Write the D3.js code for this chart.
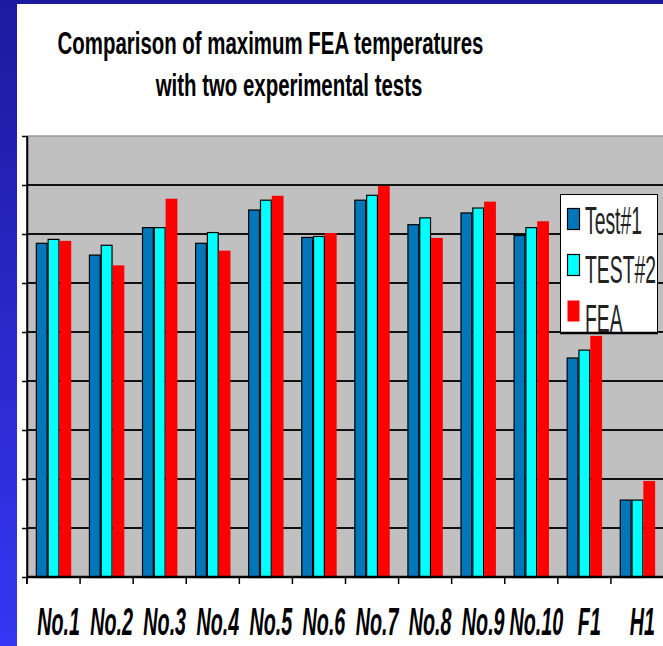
<!DOCTYPE html>
<html><head><meta charset="utf-8">
<script src="https://cdn.jsdelivr.net/npm/d3@7"></script>
<style>html,body{margin:0;padding:0;background:#fff;overflow:hidden}</style>
</head><body>
<svg id="c" width="663" height="646"></svg>
<script>
const categories = ["No.1","No.2","No.3","No.4","No.5","No.6","No.7","No.8","No.9","No.10","F1","H1"];
const seriesNames = ["Test#1","TEST#2","FEA"];
const test1 = [341,329,357,341,375,347,385,360,372,349,224,79];
const test2 = [345,339,357,352,385,348,390,367,377,357,232,79];
const fea   = [343,318,386,333,389,351,399,346,383,363,246,98];
const yTicks = [0,50,100,150,200,250,300,350,400,450];
const titleLines = ["Comparison of maximum FEA temperatures","with two experimental tests"];

const colors = ["#0077bb","#00ffff","#ff0000"];
const strokes = ["#000","#000","none"];
const seriesValues = [test1, test2, fea];

const svg = d3.select("#c");
const FONT = "'Liberation Sans', Arial, sans-serif";

// background frame
const defs = svg.append("defs");
const g1 = defs.append("linearGradient").attr("id","side").attr("x1",0).attr("y1",0).attr("x2",0).attr("y2",1);
g1.append("stop").attr("offset","0%").attr("stop-color","#1c1a9e");
g1.append("stop").attr("offset","100%").attr("stop-color","#3636f4");
svg.append("rect").attr("x",0).attr("y",0).attr("width",663).attr("height",646).attr("fill","#fff");
svg.append("rect").attr("x",0).attr("y",0).attr("width",17).attr("height",646).attr("fill","url(#side)");
svg.append("rect").attr("x",0).attr("y",0).attr("width",663).attr("height",4).attr("fill","#1c1a9e");

const x = d3.scaleBand().domain(categories).range([27, 664]);
const y = d3.scaleLinear().domain([0, 450]).range([577, 136]);
const xs = d3.scaleBand().domain(seriesNames).range([0, x.bandwidth()]).paddingInner(0).paddingOuter(0.75);

// plot area
svg.append("rect").attr("x",27).attr("y",y(450)).attr("width",637).attr("height",y(0)-y(450)).attr("fill","#c0c0c0");
svg.append("line").attr("x1",27).attr("x2",663).attr("y1",y(450)).attr("y2",y(450)).attr("stroke","#9a9a9a").attr("stroke-width",1.5);

// gridlines
svg.append("g").selectAll("line").data(yTicks.filter(d=>d>0 && d<450)).join("line")
  .attr("x1",27).attr("x2",663).attr("y1",d=>y(d)).attr("y2",d=>y(d))
  .attr("stroke","#111").attr("stroke-width",2);

// bars
const groups = svg.append("g").selectAll("g").data(seriesNames).join("g");
groups.each(function(s, si){
  d3.select(this).selectAll("rect").data(categories).join("rect")
    .attr("x",(c)=>x(c)+xs(s)+(strokes[si]==="none"?0:0.5))
    .attr("width",xs.bandwidth()-(strokes[si]==="none"?0:1))
    .attr("y",(c,i)=>y(seriesValues[si][i])+(strokes[si]==="none"?0:0.5))
    .attr("height",(c,i)=>y(0)-y(seriesValues[si][i]))
    .attr("fill",colors[si])
    .attr("stroke",strokes[si])
    .attr("stroke-width",1.2);
});

// y axis
const yAxis = svg.append("g").attr("transform","translate(27,0)")
  .call(d3.axisLeft(y).tickValues(yTicks).tickFormat(()=>"").tickSize(5).tickSizeOuter(0));
yAxis.selectAll("path,line").attr("stroke","#000").attr("stroke-width",1.5);

// x axis line & ticks at category boundaries
svg.append("line").attr("x1",27).attr("x2",664).attr("y1",577).attr("y2",577).attr("stroke","#000").attr("stroke-width",2.5);
svg.append("g").selectAll("line").data(categories).join("line")
  .attr("x1",c=>x(c)).attr("x2",c=>x(c)).attr("y1",577).attr("y2",584)
  .attr("stroke","#000").attr("stroke-width",1.5);
svg.append("line").attr("x1",27).attr("x2",27).attr("y1",136).attr("y2",584).attr("stroke","#000").attr("stroke-width",1.5);

// category labels
svg.append("g").selectAll("text").data(categories).join("text")
  .attr("transform",c=>`translate(${x(c)+x.bandwidth()/2+5},635) scale(0.52,1)`)
  .attr("text-anchor","middle")
  .attr("font-family",FONT).attr("font-size",38).attr("font-weight","bold").attr("font-style","italic")
  .attr("fill","#000")
  .text(c=>c);

// title
const titlePos = [[270.5,54],[289,96]];
svg.append("g").selectAll("text").data(titleLines).join("text")
  .attr("transform",(t,i)=>`translate(${titlePos[i][0]},${titlePos[i][1]}) scale(0.67,1)`)
  .attr("text-anchor","middle")
  .attr("font-family",FONT).attr("font-size",30.5).attr("font-weight","bold")
  .attr("fill","#000")
  .text(t=>t);

// legend
const leg = svg.append("g");
leg.append("rect").attr("x",560.5).attr("y",194.5).attr("width",97).attr("height",138).attr("fill","#fff").attr("stroke","#000").attr("stroke-width",1);
leg.append("line").attr("x1",560).attr("x2",658).attr("y1",333).attr("y2",333).attr("stroke","#000").attr("stroke-width",2.5);
const items = leg.selectAll("g.it").data(seriesNames).join("g").attr("class","it");
items.append("rect")
  .attr("x",567.5).attr("y",(s,i)=>208.5+i*46).attr("width",12).attr("height",21)
  .attr("fill",(s,i)=>colors[i]).attr("stroke",(s,i)=>strokes[i]).attr("stroke-width",1.2);
items.append("text")
  .attr("transform",(s,i)=>`translate(585,${234+i*49}) scale(0.49,1)`)
  .attr("font-family",FONT).attr("font-size",39.5).attr("fill","#222")
  .text(s=>s);
</script>
</body></html>
